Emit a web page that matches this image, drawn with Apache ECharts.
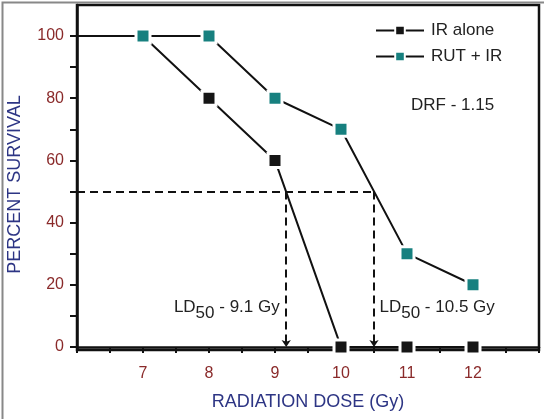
<!DOCTYPE html>
<html><head><meta charset="utf-8">
<script src="https://cdn.jsdelivr.net/npm/echarts@6/dist/echarts.min.js"></script>
<style>html,body{margin:0;padding:0;background:#fff}#c{width:544px;height:419px}</style>
</head><body><div id="c"></div>
<script>
// ---- data ----
const doses = [6, 7, 8, 9, 10, 11, 12];
const irAlone = [100, 100, 80, 60, 0, 0, 0];
const rutIr = [100, 100, 100, 80, 70, 30, 20];
const seriesNames = ['IR alone', 'RUT + IR'];
const xTickValues = [6, 6.5, 7, 7.5, 8, 8.5, 9, 9.5, 10, 10.5, 11, 11.5, 12, 12.5, 13];
const xLabelValues = [7, 8, 9, 10, 11, 12];
const yTickValues = [0, 10, 20, 30, 40, 50, 60, 70, 80, 90, 100];
const yLabelValues = [0, 20, 40, 60, 80, 100];
const survivalLevel = 50;
const ld50Values = [9.17, 10.5];
const ld50Texts = ['9.1', '10.5'];
const ld50LabelY = 12.8;
const drfText = 'DRF - 1.15';

const FONT = '"Liberation Sans", Arial, sans-serif';
const tickColor = '#8a2a2a';
const titleColor = '#2d3584';

function toData(vals) {
  return doses.map((d, i) => i === 0 ? { value: [d, vals[i]], symbol: 'none' } : [d, vals[i]]);
}

const chart = echarts.init(document.getElementById('c'), null, { renderer: 'canvas' });
chart.setOption({
  animation: false,
  backgroundColor: '#fff',
  textStyle: { fontFamily: FONT },
  grid: { left: 77, right: 5, top: 5, bottom: 69, show: true, borderColor: '#111', borderWidth: 2.5,
          backgroundColor: 'transparent', containLabel: false, outerBoundsMode: 'none' },
  title: {
    text: drfText, left: 406, top: 92,
    textStyle: { fontSize: 17, fontWeight: 'normal', color: '#222', fontFamily: FONT }
  },
  legend: {
    data: seriesNames, orient: 'vertical', left: 370, top: 17,
    itemWidth: 48, itemHeight: 12, itemGap: 9,
    textStyle: { fontSize: 17, color: '#222', fontFamily: FONT, padding: [0, 0, 0, 2] }
  },
  xAxis: {
    type: 'value', min: 6, max: 13,
    name: 'RADIATION DOSE (Gy)', nameLocation: 'middle', nameGap: 43,
    nameTextStyle: { fontSize: 18, color: titleColor, fontFamily: FONT },
    axisLine: { show: true, lineStyle: { color: '#111', width: 2.5 } },
    axisTick: { show: true, customValues: xTickValues, length: 6, lineStyle: { color: '#111', width: 2 } },
    axisLabel: { customValues: xLabelValues, fontSize: 16, color: tickColor, margin: 16, fontFamily: FONT },
    splitLine: { show: false }
  },
  yAxis: {
    type: 'value', min: -1, max: 110,
    name: 'PERCENT SURVIVAL', nameLocation: 'middle', nameGap: 53,
    nameTextStyle: { fontSize: 18, color: titleColor, fontFamily: FONT, padding: [0, 14, 0, 0] },
    axisLine: { show: true, lineStyle: { color: '#111', width: 2.5 } },
    axisTick: { show: true, customValues: yTickValues, length: 7, lineStyle: { color: '#111', width: 2 } },
    axisLabel: { customValues: yLabelValues, fontSize: 16, color: tickColor, margin: 13, fontFamily: FONT },
    splitLine: { show: false }
  },
  graphic: [{
    type: 'rect', left: 0, top: 0, silent: true,
    shape: { width: 543, height: 418 },
    style: { fill: 'none', stroke: '#888', lineWidth: 2 }
  }],
  series: [
    {
      name: seriesNames[0], type: 'line', data: toData(irAlone), z: 3,
      symbol: 'rect', symbolSize: 14,
      lineStyle: { color: '#111', width: 2 },
      itemStyle: { color: '#151515', borderColor: '#fff', borderWidth: 3 }
    },
    {
      name: seriesNames[1], type: 'line', data: toData(rutIr), z: 4,
      symbol: 'rect', symbolSize: 14,
      lineStyle: { color: '#111', width: 2 },
      itemStyle: { color: '#17807f', borderColor: '#fff', borderWidth: 3 }
    },
    {
      name: 'ld50', type: 'line', data: [], z: 2, silent: true,
      markLine: {
        silent: true, symbolSize: 7,
        label: { show: false },
        lineStyle: { type: [8, 5], width: 2, color: '#111' },
        data: [
          [{ coord: [6, survivalLevel], symbol: 'none' }, { coord: [ld50Values[1], survivalLevel], symbol: 'none' }],
          [{ coord: [ld50Values[0], survivalLevel], symbol: 'none' }, { coord: [ld50Values[0], 0], symbol: 'arrow' }],
          [{ coord: [ld50Values[1], survivalLevel], symbol: 'none' }, { coord: [ld50Values[1], 0], symbol: 'arrow' }]
        ]
      },
      markPoint: {
        silent: true, symbol: 'circle', symbolSize: 1,
        itemStyle: { color: 'rgba(0,0,0,0)' },
        label: {
          show: true, color: '#222', fontSize: 17, fontFamily: FONT,
          rich: { s: { fontSize: 17, color: '#222', fontFamily: FONT, padding: [12, 0, 0, 0] } }
        },
        data: [
          { coord: [ld50Values[0], ld50LabelY], label: { position: 'left', distance: 6, formatter: 'LD{s|50} - ' + ld50Texts[0] + ' Gy' } },
          { coord: [ld50Values[1], ld50LabelY], label: { position: 'right', distance: 5, formatter: 'LD{s|50} - ' + ld50Texts[1] + ' Gy' } }
        ]
      }
    }
  ]
});
</script>
</body></html>
